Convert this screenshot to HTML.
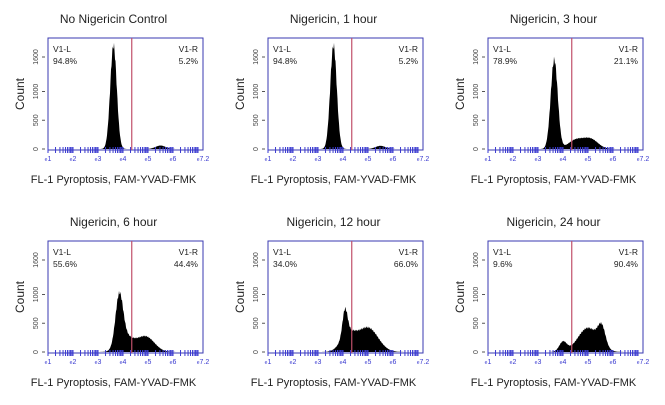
<!DOCTYPE html><html><head><style>
body{margin:0;background:#fff;width:665px;height:400px;overflow:hidden}
</style></head><body>
<svg id="s" width="665" height="400" xmlns="http://www.w3.org/2000/svg" font-family="Liberation Sans, sans-serif">
</svg>
<script>
const s=document.getElementById('s');let h='';
const P=[
 {t:'No Nigericin Control',L:'94.8%',R:'5.2%',g:[[3.62,0.13,1800],[5.5,0.2,60]]},
 {t:'Nigericin, 1 hour',L:'94.8%',R:'5.2%',g:[[3.62,0.13,1800],[5.5,0.2,55]]},
 {t:'Nigericin, 3 hour',L:'78.9%',R:'21.1%',g:[[3.65,0.14,1550],[4.5,0.3,150],[5.1,0.3,170]]},
 {t:'Nigericin, 6 hour',L:'55.6%',R:'44.4%',g:[[3.85,0.15,850],[4.1,0.3,250],[4.9,0.35,270]]},
 {t:'Nigericin, 12 hour',L:'34.0%',R:'66.0%',g:[[4.08,0.1,450],[4.2,0.3,300],[5.0,0.4,420]]},
 {t:'Nigericin, 24 hour',L:'9.6%',R:'90.4%',g:[[4.0,0.15,170],[5.0,0.4,420],[5.55,0.15,330]]}];
P.forEach((p,i)=>{
 const x0=[48,268,488][i%3],y0=i<3?38:241,W=155,H=112,yb=y0+H-1;
 const X=v=>x0+(v-1)*W/6.2, Y=c=>yb-c*92/1600;
 h+=`<text x="${x0+W/2-12}" y="${y0-15}" font-size="12" text-anchor="middle" fill="#222">${p.t}</text>`;
 let d=`M${X(1)},${yb}`;
 for(let v=2.8;v<=6.6;v+=0.02){let c=0;p.g.forEach(g=>c+=g[2]*Math.exp(-((v-g[0])**2)/(2*g[1]*g[1])));c*=(1+0.04*Math.sin(v*97));d+=`L${X(v).toFixed(1)},${Y(Math.max(0,c)).toFixed(1)}`;}
 d+=`L${X(7.2)},${yb}Z`;
 h+=`<path d="${d}" fill="#000"/>`;
 h+=`<rect x="${x0}" y="${y0}" width="${W}" height="${H}" fill="none" stroke="#3a3ab0" stroke-width="1"/>`;
 h+=`<line x1="${X(4.35)}" y1="${y0}" x2="${X(4.35)}" y2="${y0+H}" stroke="#c0506a" stroke-width="1.2"/>`;
 h+=`<text x="${x0+5}" y="${y0+14}" font-size="8.5" fill="#222">V1-L</text><text x="${x0+5}" y="${y0+26}" font-size="8.5" fill="#222">${p.L}</text>`;
 h+=`<text x="${x0+W-5}" y="${y0+14}" font-size="8.5" text-anchor="end" fill="#222">V1-R</text><text x="${x0+W-5}" y="${y0+26}" font-size="8.5" text-anchor="end" fill="#222">${p.R}</text>`;
 [[0,'0'],[500,'500'],[1000,'1000'],[1600,'1600']].forEach(([c,l])=>{const y=Y(c);
  h+=`<line x1="${x0-6}" y1="${y}" x2="${x0-3}" y2="${y}" stroke="#555"/>`;
  h+=`<text transform="translate(${x0-10},${y}) rotate(-90)" font-size="7" text-anchor="middle" fill="#444">${l}</text>`;});
 h+=`<text transform="translate(${x0-24},${y0+H/2}) rotate(-90)" font-size="12" text-anchor="middle" fill="#222">Count</text>`;
 for(let dcd=1;dcd<7.2;dcd++)for(let k=1;k<10;k++){const v=dcd+Math.log10(k);if(v>7.2)break;const x=X(v);
  h+=`<line x1="${x}" y1="${yb-2}" x2="${x}" y2="${yb+4}" stroke="#3a3ad0" stroke-width="1"/>`;}
 ['1','2','3','4','5','6','7.2'].forEach((l,j)=>{const x=X(j==6?7.2:j+1);
  h+=`<text x="${x}" y="${yb+12}" font-size="7" text-anchor="middle" fill="#3a3ad0"><tspan font-size="5">e</tspan>${l}</text>`;});
 h+=`<text x="${x0+W/2-12}" y="${yb+34}" font-size="11" text-anchor="middle" fill="#222">FL-1 Pyroptosis, FAM-YVAD-FMK</text>`;
});
s.innerHTML=h;
</script>
</body></html>
